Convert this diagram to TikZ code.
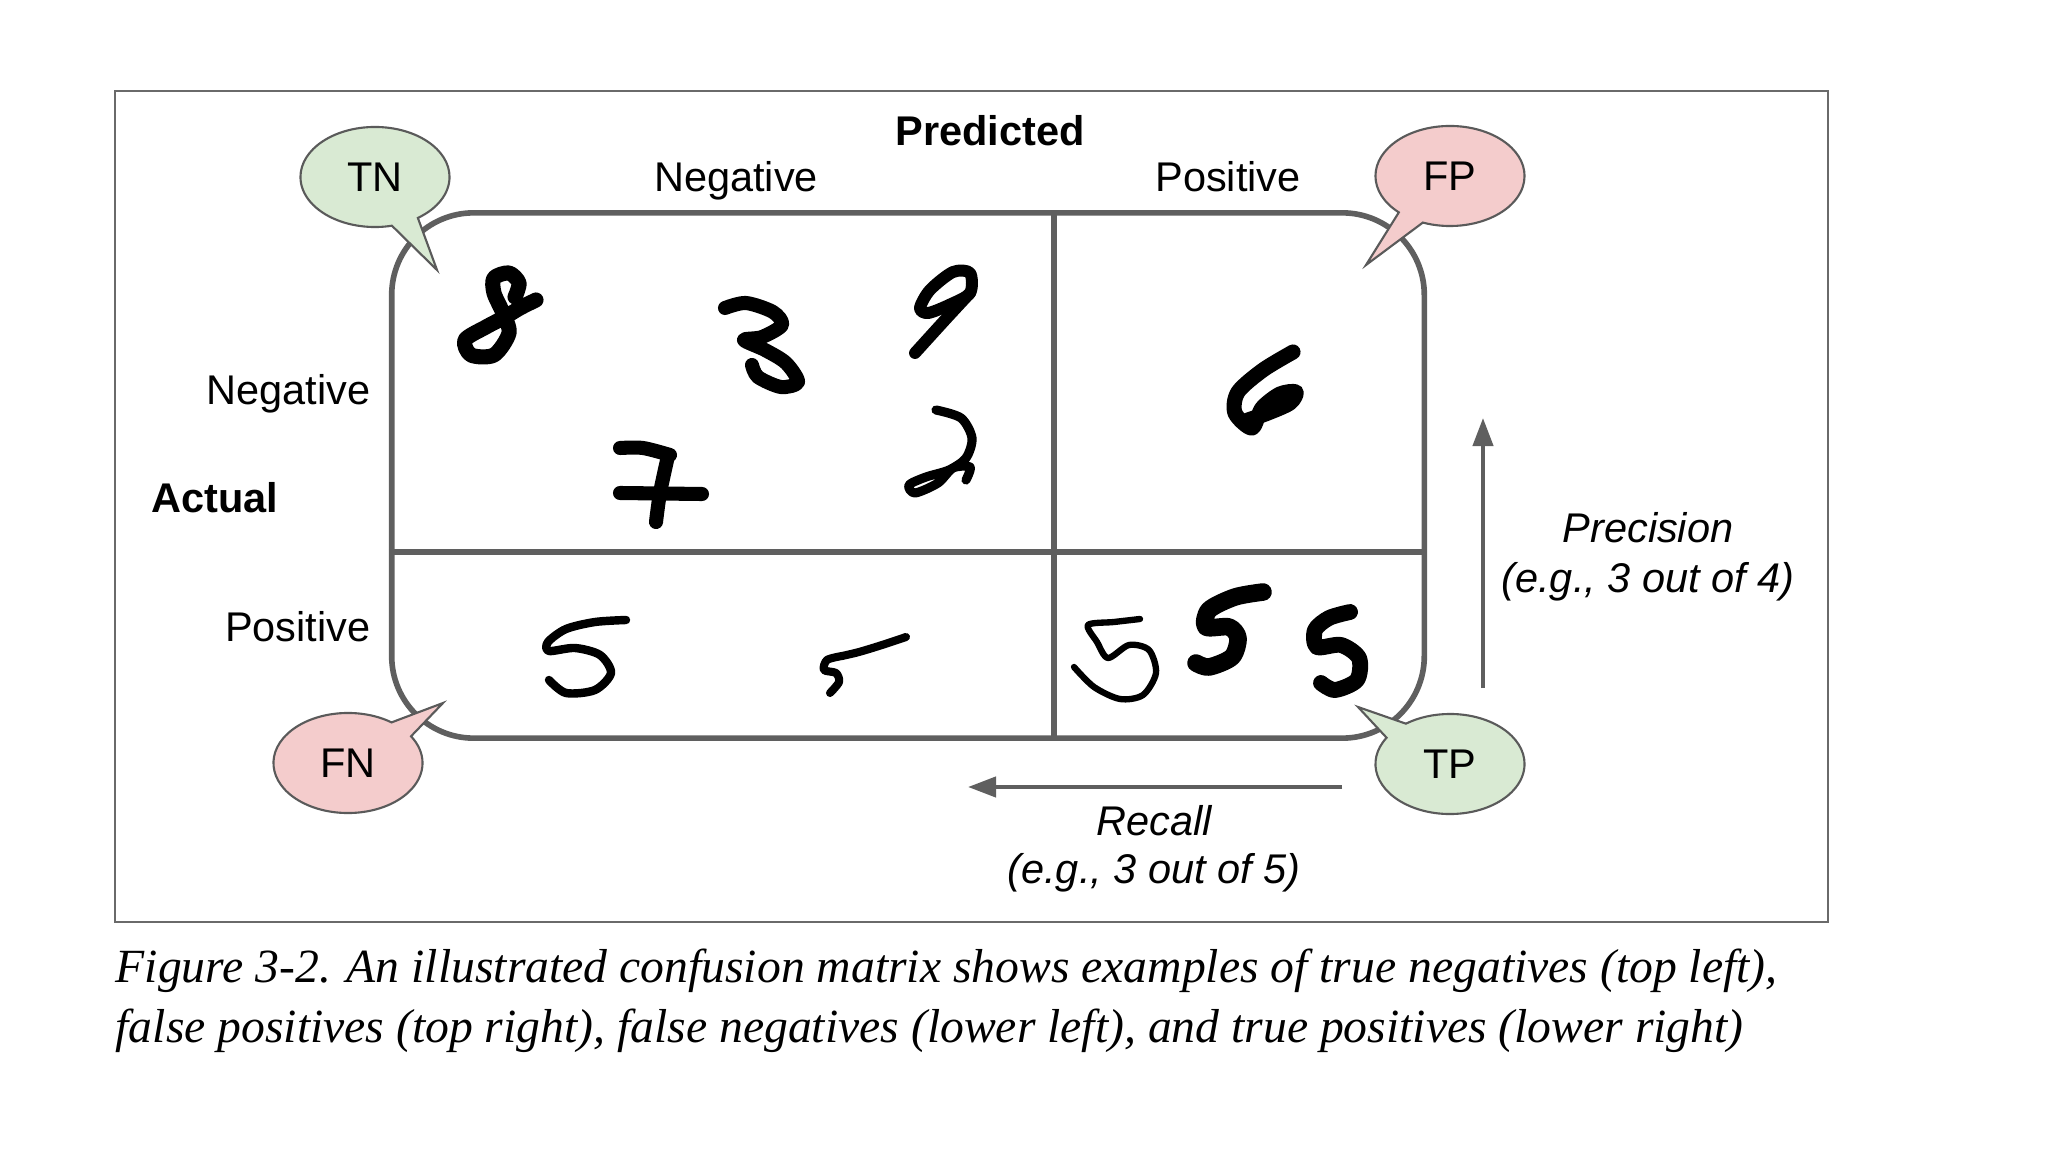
\documentclass[tikz,border=0pt]{standalone}
\usepackage{fontspec}
\setmainfont{Liberation Sans}
\newfontfamily\capfont{Liberation Serif}
\usetikzlibrary{shapes.callouts,arrows.meta}
\definecolor{matgray}{HTML}{5F5F5F}
\definecolor{framegray}{HTML}{6A6A6A}
\definecolor{bubgreen}{HTML}{D9EAD3}
\definecolor{bubpink}{HTML}{F4CCCC}
\definecolor{bubline}{HTML}{5A5A5A}
\tikzset{
  lbl/.style={font=\fontsize{11.8}{14}\selectfont, inner sep=0pt, anchor=base},
  caption/.style={font=\capfont\itshape\fontsize{13.55}{17}\selectfont, inner sep=0pt, anchor=base west},
  bubble/.style={ellipse callout, draw=bubline, line width=0.6pt, minimum width=1.49cm,
    minimum height=1cm, inner sep=0pt, callout pointer arc=22, font=\fontsize{11.8}{14}\selectfont},
  matline/.style={draw=matgray, line width=1.6pt},
  digit/.style={line width=4pt, line cap=round, line join=round},
  metric/.style={draw=matgray, line width=1.2pt, -{Triangle[length=0.28cm,width=0.2cm,fill=matgray]}},
}
\begin{document}
\begin{tikzpicture}[x=0.01cm, y=-0.01cm]
 \useasboundingbox (0,0) rectangle (2048,1152);
 \draw[framegray, line width=0.6pt] (115,91) rectangle (1828,922);
 % matrix
 \node[matline, rounded corners=0.82cm, minimum width=10.32cm, minimum height=5.25cm, inner sep=0pt] (mat) at (908,475.5) {};
 \coordinate (mid) at (1054,552);
 \draw[matline] (mat.north -| mid) -- (mat.south -| mid);
 \draw[matline] (mat.west |- mid) -- (mat.east |- mid);
 % labels
 \node[lbl] (predicted) at (990,146) {\bfseries Predicted};
 \node[lbl] (prednegative) at (736,192) {Negative};
 \node[lbl] (predpositive) at (1228,192) {Positive};
 \node[lbl, anchor=base east] (actnegative) at (371,405) {Negative};
 \node[lbl] (actual) at (215,513) {\bfseries Actual};
 \node[lbl, anchor=base east] (actpositive) at (371,642) {Positive};
 % digits
 \draw[digit, line width=4.3pt] plot[smooth] coordinates {(536,300) (520,308) (505,317) (486,327) (465,340) (471,355) (494,355) (509,333) (503,313) (494,293) (494,278) (509,273) (519,283) (515,297)};
 \draw[digit] plot[smooth] coordinates {(725,308) (746,303) (773,312) (782,325) (762,337) (744,340) (765,350) (786,363) (798,382) (781,387) (758,377) (752,365)};
 \draw[digit, line width=3.4pt] plot[smooth cycle] coordinates {(920,308) (930,290) (953,272) (970,273) (970,293) (949,305) (928,313)};
 \draw[digit, line width=3.4pt] plot[smooth] coordinates {(970,293) (945,320) (915,353)};
 \draw[digit] plot[smooth] coordinates {(620,448) (643,448) (670,455)};
 \draw[digit] plot[smooth] coordinates {(668,456) (660,493) (656,522)};
 \draw[digit] (620,493) -- (702,494);
 \draw[digit, line width=2.6pt] plot[smooth] coordinates {(936,410) (961,418) (972,438) (966,458) (949,470) (926,477) (909,485) (915,493) (938,483) (953,468) (970,467) (966,480)};
 \draw[digit, line width=4.3pt] plot[smooth] coordinates {(1293,352) (1263,370) (1238,392) (1235,413) (1252,428) (1262,408) (1280,394) (1296,392) (1290,403) (1268,413) (1248,420)};
 \draw[digit, line width=2.4pt] plot[smooth] coordinates {(626,620) (595,622) (566,629) (548,642) (549,651) (575,648) (600,655) (611,673) (595,690) (566,693) (549,680)};
 \draw[digit, line width=2.3pt] plot[smooth] coordinates {(906,637) (882,645) (859,652) (842,656)};
 \draw[digit, line width=2.3pt] plot[smooth] coordinates {(842,656) (827,660) (824,670) (836,673) (839,682) (830,693)};
 \draw[digit, line width=1.8pt] plot[smooth] coordinates {(1140,619) (1114,622) (1088,625) (1097,642) (1108,658) (1129,645) (1149,650) (1156,673) (1143,695) (1120,699) (1094,687) (1074,667)};
 \draw[digit, line width=5pt] plot[smooth] coordinates {(1263,592) (1235,597) (1209,610) (1206,627) (1229,627) (1238,638) (1232,657) (1209,667) (1196,663)};
 \draw[digit, line width=4.5pt] plot[smooth] coordinates {(1350,612) (1329,618) (1315,630) (1317,647) (1341,645) (1359,658) (1357,680) (1335,690) (1321,683)};
 % bubbles
 \coordinate (tntip) at (437,270);
 \coordinate (fptip) at (1366,265);
 \coordinate (fntip) at (443,703);
 \coordinate (tptip) at (1358,707);
 \node[bubble, fill=bubgreen, callout absolute pointer={(tntip)}] (tn) at (375,177) {TN};
 \node[bubble, fill=bubpink, callout absolute pointer={(fptip)}] (fp) at (1450,176) {FP};
 \node[bubble, fill=bubpink, callout absolute pointer={(fntip)}] (fn) at (348,763) {FN};
 \node[bubble, fill=bubgreen, callout absolute pointer={(tptip)}] (tp) at (1450,764) {TP};
 % precision and recall
 \coordinate (precbot) at (1483,688);
 \coordinate (prectop) at (1483,418);
 \draw[metric] (precbot) -- (prectop);
 \node[lbl] (precision) at (1648,543) {\itshape Precision};
 \node[lbl] (precisionex) at (1648,593) {\itshape (e.g., 3 out of 4)};
 \coordinate (recright) at (1342,787);
 \coordinate (recleft) at (968,787);
 \draw[metric] (recright) -- (recleft);
 \node[lbl] (recall) at (1154,835) {\itshape Recall};
 \node[lbl] (recallex) at (1154,883) {\itshape (e.g., 3 out of 5)};
 % caption
 \node[caption] (capone) at (115,982) {Figure 3-2. An illustrated confusion matrix shows examples of true negatives (top left),};
 \node[caption] (captwo) at (115,1042) {false positives (top right), false negatives (lower left), and true positives (lower right)};
\end{tikzpicture}
\end{document}
